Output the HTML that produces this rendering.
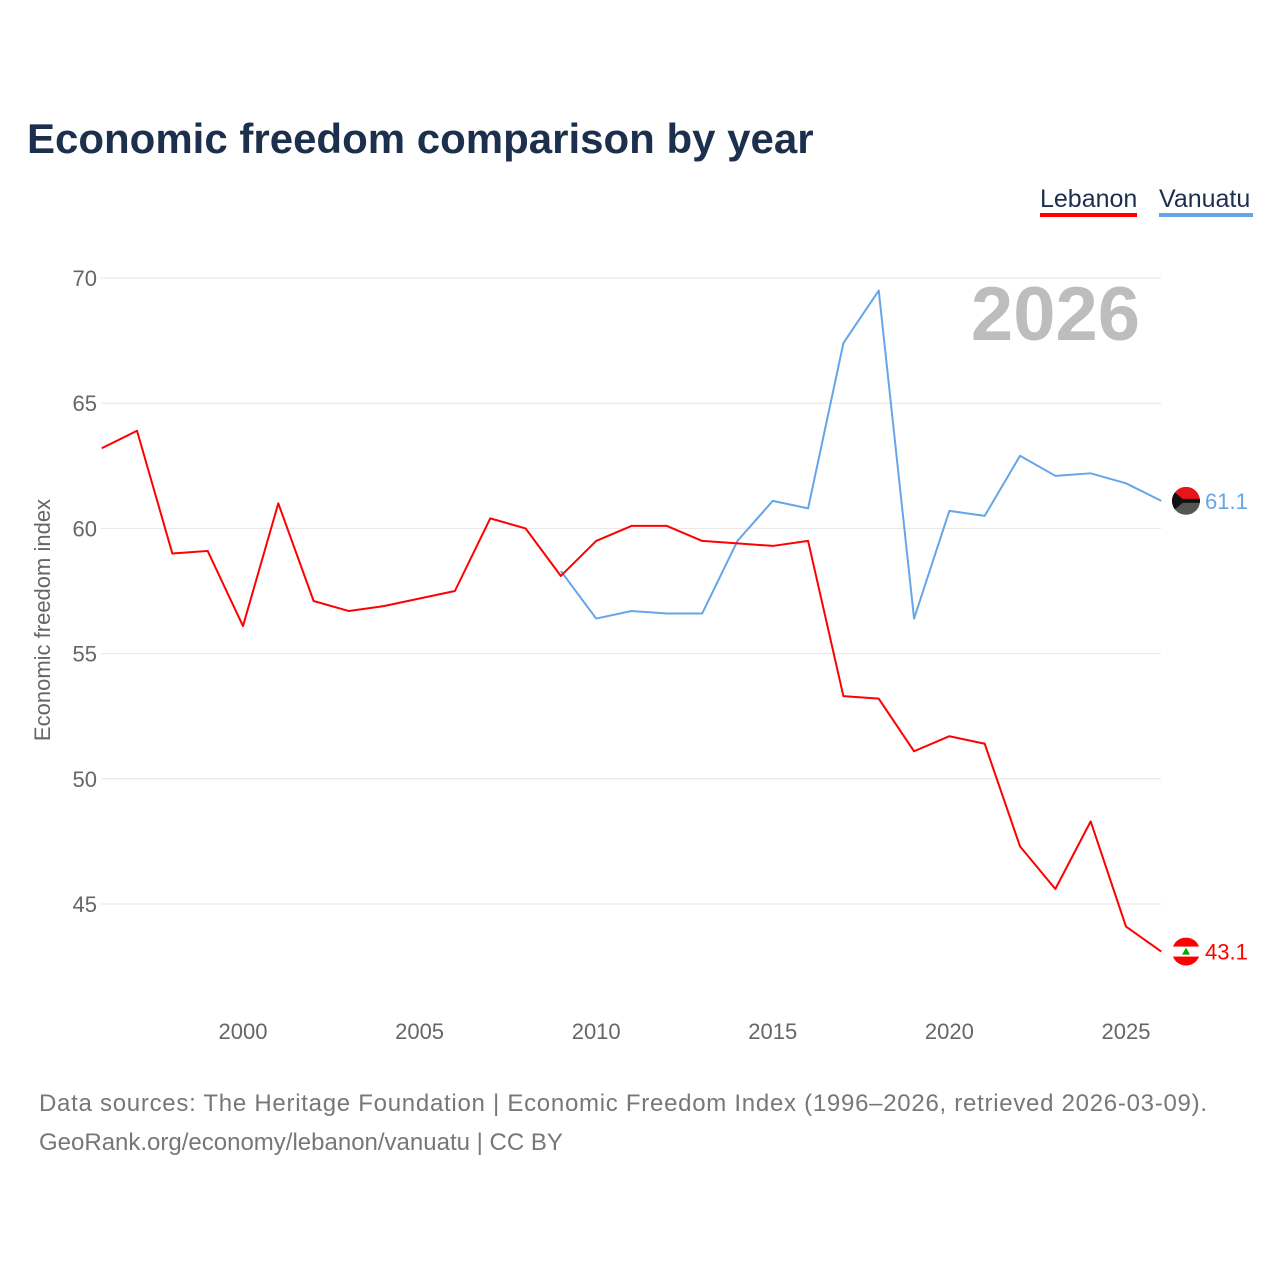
<!DOCTYPE html>
<html><head><meta charset="utf-8"><style>
body{margin:0;background:#fff;font-family:"Liberation Sans",sans-serif;}
svg text{font-family:"Liberation Sans",sans-serif;}
</style></head><body>
<svg id="chart" width="1280" height="1280" viewBox="0 0 1280 1280">
<defs><clipPath id="cv"><circle id="cvc" cx="1186" cy="500" r="14"/></clipPath></defs>
<text x="27" y="153" font-size="42" font-weight="bold" fill="#1c2f4d">Economic freedom comparison by year</text>
<g><text x="1040" y="207" font-size="25" fill="#1c2f4d">Lebanon</text><rect x="1040" y="213" width="97" height="4" fill="#ff0000"/></g>
<g><text x="1159" y="207" font-size="25" fill="#1c2f4d">Vanuatu</text><rect x="1159" y="213" width="94" height="4" fill="#64a6e8"/></g>
<text x="1140" y="340" font-size="76" font-weight="bold" fill="#bdbdbd" text-anchor="end">2026</text>
<text transform="translate(50,620) rotate(-90)" font-size="22" fill="#666" text-anchor="middle">Economic freedom index</text>
<g id="grid"></g><g id="xt"></g><g id="lines"></g>
<text x="39" y="1111" font-size="24" fill="#777" textLength="1168">Data sources: The Heritage Foundation | Economic Freedom Index (1996–2026, retrieved 2026-03-09).</text>
<text x="39" y="1150" font-size="24" fill="#777">GeoRank.org/economy/lebanon/vanuatu | CC BY</text>
</svg>
<script>
const yTicks=[45,50,55,60,65,70];
const xTicks=[2000,2005,2010,2015,2020,2025];
const lebYears=[1996,1997,1998,1999,2000,2001,2002,2003,2004,2005,2006,2007,2008,2009,2010,2011,2012,2013,2014,2015,2016,2017,2018,2019,2020,2021,2022,2023,2024,2025,2026];
const lebVals=[63.2,63.9,59.0,59.1,56.1,61.0,57.1,56.7,56.9,57.2,57.5,60.4,60.0,58.1,59.5,60.1,60.1,59.5,59.4,59.3,59.5,53.3,53.2,51.1,51.7,51.4,47.3,45.6,48.3,44.1,43.1];
const vanYears=[2009,2010,2011,2012,2013,2014,2015,2016,2017,2018,2019,2020,2021,2022,2023,2024,2025,2026];
const vanVals=[58.3,56.4,56.7,56.6,56.6,59.5,61.1,60.8,67.4,69.5,56.4,60.7,60.5,62.9,62.1,62.2,61.8,61.1];
const NS="http://www.w3.org/2000/svg";
const X=y=>101.7+(y-1996)*35.32, Y=v=>278+(70-v)*25.04;
function mk(t,a,p){const e=document.createElementNS(NS,t);for(const k in a)e.setAttribute(k,a[k]);p.appendChild(e);return e;}
const g=document.getElementById('grid');
yTicks.forEach(v=>{
 const l=mk('line',{x1:101,x2:1161,y1:Y(v),y2:Y(v),stroke:'#e6e6e6','stroke-width':1},g);
 
 
 const t=mk('text',{x:97,y:Y(v)+8,'font-size':22,fill:'#666','text-anchor':'end'},g);t.textContent=v;
 
 
});
const xt=document.getElementById('xt');
xTicks.forEach(v=>{
 const t=mk('text',{x:X(v),y:1039,'font-size':22,fill:'#666','text-anchor':'middle'},xt);t.textContent=v;
 
 
});
const L=document.getElementById('lines');
function series(ys,vs,c,name){
 const p=mk('polyline',{points:ys.map((y,i)=>X(y)+','+Y(vs[i])).join(' '),fill:'none',stroke:c,'stroke-width':2,'stroke-linejoin':'round'},L);
 
 
 const last=vs[vs.length-1],ly=Y(last);
 const grp=mk('g',{},L);
 
 
 if(c==='#ff0000'){
  mk('circle',{cx:1186,cy:ly,r:14,fill:'#ff0000'},grp);
  mk('rect',{x:1172,y:ly-5,width:28,height:10,fill:'#fff'},grp);
  mk('path',{d:`M1186 ${ly-4} l-4 7 h8 z`,fill:'#0a0'},grp);
 } else {
  document.getElementById('cvc').setAttribute('cy',ly);
  const cg=mk('g',{'clip-path':'url(#cv)'},grp);
  mk('rect',{x:1172,y:ly,width:28,height:14,fill:'#555'},cg);
  mk('rect',{x:1172,y:ly-14,width:28,height:14,fill:'#e8141c'},cg);
  mk('rect',{x:1172,y:ly-2,width:28,height:4,fill:'#111'},cg);
  mk('path',{d:`M1172 ${ly-11} L1185 ${ly} L1172 ${ly+11} z`,fill:'#111'},cg);
 }
 const t=mk('text',{x:1205,y:ly+8,'font-size':22,fill:c},L);t.textContent=last.toFixed(1);
 
 
}
series(vanYears,vanVals,'#64a6e8','vanuatu');
series(lebYears,lebVals,'#ff0000','lebanon');
</script>
</body></html>
